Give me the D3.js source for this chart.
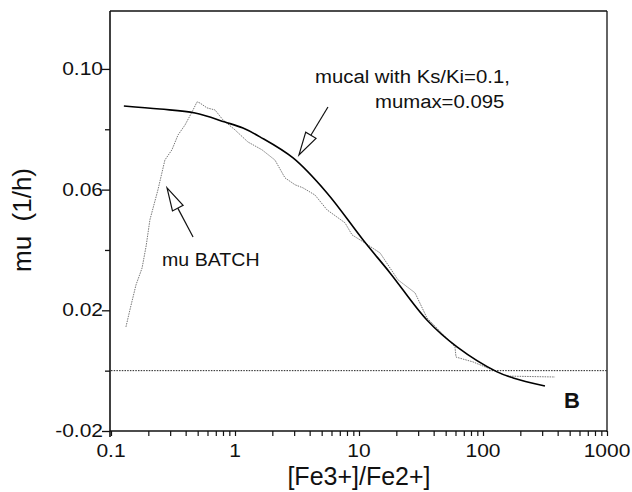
<!DOCTYPE html>
<html>
<head>
<meta charset="utf-8">
<script src="https://cdn.jsdelivr.net/npm/d3@7"></script>
<style>
  html, body { margin: 0; padding: 0; background: #fff; }
  svg { display: block; font-family: "Liberation Sans", Arial, Helvetica, sans-serif; }
</style>
</head>
<body>
<svg id="chart" width="632" height="492"></svg>
<script>
// ---- Data ----
// Calculated curve (mucal, Ks/Ki = 0.1, mumax = 0.095)
const mucalRatio = [0.127, 0.248, 0.476, 0.83, 1.16, 1.59, 2.94, 5.52, 10.8, 17.8, 35.3, 61.7, 130, 175, 316];
const mucalMu    = [0.0877, 0.0867, 0.0854, 0.0824, 0.0804, 0.0775, 0.0705, 0.0589, 0.0433, 0.0324, 0.0168, 0.0079, -0.0004, -0.0024, -0.0051];

// Measured batch growth rate (mu BATCH)
const batchRatio = [0.132, 0.142, 0.159, 0.178, 0.192, 0.206, 0.239, 0.272, 0.310, 0.347, 0.395, 0.459, 0.494, 0.522, 0.594, 0.69, 0.80, 1.0, 1.27, 1.65, 2.10, 2.53, 3.05, 3.53, 4.42, 5.52, 7.71, 8.79, 10.8, 14.8, 20.6, 28.3, 35.3, 59.4, 60.6, 83, 130, 156, 381];
const batchMu    = [0.0145, 0.0201, 0.0284, 0.0340, 0.0413, 0.0500, 0.0599, 0.0698, 0.0732, 0.0781, 0.0814, 0.0864, 0.0891, 0.0887, 0.0871, 0.0864, 0.0831, 0.0798, 0.0758, 0.0732, 0.0698, 0.0639, 0.0616, 0.0606, 0.0582, 0.0533, 0.0490, 0.0450, 0.0427, 0.0390, 0.0301, 0.0258, 0.0175, 0.0079, 0.0045, 0.0029, -0.0004, -0.0018, -0.0021];

// Axis ticks
const xTickLabels = [0.1, 1, 10, 100, 1000];
const yTickLabels = [-0.02, 0.02, 0.06, 0.10];
const yMinorTicks = [0.0, 0.04, 0.08];
const zeroLine = 0;

// Annotations (data coordinates)
const arrowMucal = { tail: [5.62, 0.0874], tip: [3.28, 0.0715] };
const arrowBatch = { tail: [0.459, 0.0443], tip: [0.283, 0.0606] };

// ---- Scales ----
const svg = d3.select("#chart");
const x = d3.scaleLog().domain([0.1, 1000]).range([111, 607]);
const y = d3.scaleLinear().domain([-0.02, 0.1192]).range([431, 11]);

const ink = "#111";

// Frame top and right
svg.append("line").attr("x1", 110).attr("x2", 607).attr("y1", y(0.1192)).attr("y2", y(0.1192))
  .attr("stroke", ink).attr("stroke-width", 1.3);
svg.append("line").attr("x1", 607).attr("x2", 607).attr("y1", y(0.1192)).attr("y2", 432)
  .attr("stroke", ink).attr("stroke-width", 1.3);

// X axis with log minor ticks
const xTicks = [];
for (let d = 0.1; d < 1000; d *= 10) for (let k = 1; k < 10; k++) xTicks.push(+(d * k).toPrecision(3));
xTicks.push(1000);
const xAxis = svg.append("g").attr("transform", `translate(0,${y(-0.02)})`)
  .call(d3.axisBottom(x).tickValues(xTicks).tickSize(5).tickFormat(""));
xAxis.select(".domain").attr("stroke", ink).attr("stroke-width", 1.5).attr("d", `M110,0H607`);
xAxis.selectAll(".tick line").attr("stroke", ink).attr("stroke-width", 1.2);

// Y axis
const yAxisMajor = svg.append("g").attr("transform", "translate(110,0)")
  .call(d3.axisLeft(y).tickValues(yTickLabels).tickSize(8).tickFormat(""));
yAxisMajor.select(".domain").attr("stroke", ink).attr("stroke-width", 1.6).attr("d", `M0,${y(0.1192)}V437`);
yAxisMajor.selectAll(".tick line").attr("stroke", ink).attr("stroke-width", 1.3);
const yAxisMinor = svg.append("g").attr("transform", "translate(110,0)")
  .call(d3.axisLeft(y).tickValues(yMinorTicks).tickSize(5).tickFormat(""));
yAxisMinor.select(".domain").remove();
yAxisMinor.selectAll(".tick line").attr("stroke", ink).attr("stroke-width", 1.3);

// Tick labels (horizontally stretched like the reference)
svg.append("g").selectAll("text").data(yTickLabels).join("text")
  .attr("transform", d => `translate(103,${y(d) + 6}) scale(1.2,1)`)
  .attr("text-anchor", "end").attr("font-size", 17.5).attr("fill", ink)
  .text(d => d.toFixed(2));
svg.append("g").selectAll("text").data(xTickLabels).join("text")
  .attr("transform", d => `translate(${x(d)},457) scale(1.2,1)`)
  .attr("text-anchor", "middle").attr("font-size", 17.5).attr("fill", ink)
  .text(d => String(d));

// Axis titles
svg.append("text").attr("transform", `translate(31,220) rotate(-90)`)
  .attr("text-anchor", "middle").attr("font-size", 26).attr("fill", ink)
  .attr("xml:space", "preserve").style("white-space", "pre")
  .text("mu  (1/h)");
svg.append("text").attr("x", 359).attr("y", 485)
  .attr("text-anchor", "middle").attr("font-size", 25).attr("fill", ink)
  .text("[Fe3+]/Fe2+]");

// Zero reference line (dotted)
svg.append("line").attr("x1", 111).attr("x2", 607).attr("y1", y(zeroLine)).attr("y2", y(zeroLine))
  .attr("stroke", "#222").attr("stroke-width", 1).attr("stroke-dasharray", "1.5,1.2");

// Batch curve (gray dotted)
const batch = batchRatio.map((r, i) => [r, batchMu[i]]);
svg.append("path").datum(batch)
  .attr("d", d3.line().x(d => x(d[0])).y(d => y(d[1])))
  .attr("fill", "none").attr("stroke", "#777").attr("stroke-width", 1).attr("stroke-dasharray", "1.5,1");

// Calculated curve (solid black)
const mucal = mucalRatio.map((r, i) => [r, mucalMu[i]]);
svg.append("path").datum(mucal)
  .attr("d", d3.line().curve(d3.curveCatmullRom).x(d => x(d[0])).y(d => y(d[1])))
  .attr("fill", "none").attr("stroke", "#000").attr("stroke-width", 1.6);

// Arrows with open triangular heads
function arrow(a) {
  const tx = x(a.tail[0]), ty = y(a.tail[1]);
  const px = x(a.tip[0]), py = y(a.tip[1]);
  const dx = px - tx, dy = py - ty, len = Math.hypot(dx, dy);
  const ux = dx / len, uy = dy / len;
  const headLen = 23, half = 6;
  const bx = px - ux * headLen, by = py - uy * headLen;
  svg.append("line").attr("x1", tx).attr("y1", ty).attr("x2", bx).attr("y2", by)
    .attr("stroke", ink).attr("stroke-width", 1.2);
  const pts = [[px, py], [bx - uy * half, by + ux * half], [bx + uy * half, by - ux * half]];
  svg.append("polygon").attr("points", pts.map(p => p.join(",")).join(" "))
    .attr("fill", "#fff").attr("stroke", ink).attr("stroke-width", 1.2).attr("stroke-linejoin", "miter");
}
arrow(arrowMucal);
arrow(arrowBatch);

// Annotation texts
svg.append("text").attr("transform", "translate(315,83) scale(1.13,1)")
  .attr("font-size", 18).attr("fill", ink).text("mucal with Ks/Ki=0.1,");
svg.append("text").attr("transform", "translate(375,108) scale(1.13,1)")
  .attr("font-size", 18).attr("fill", ink).text("mumax=0.095");
svg.append("text").attr("transform", "translate(162,266) scale(1.12,1)")
  .attr("font-size", 17.5).attr("fill", ink).text("mu BATCH");
svg.append("text").attr("x", 564).attr("y", 408)
  .attr("font-size", 22).attr("font-weight", "bold").attr("fill", ink).text("B");
</script>
</body>
</html>
